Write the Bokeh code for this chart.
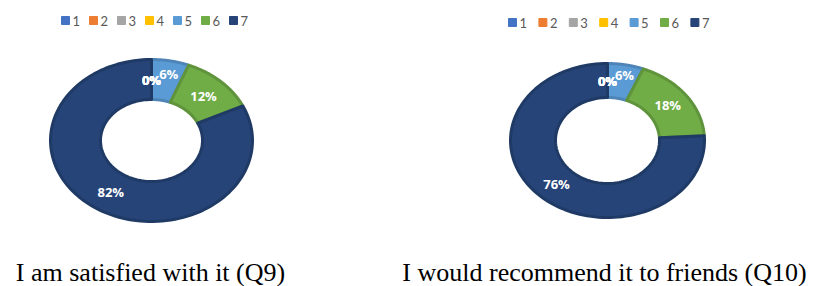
import numpy as np
from bokeh.plotting import figure
from bokeh.models import Range1d, ColumnDataSource
from bokeh.core.properties import value
from bokeh.embed import file_html
from bokeh.resources import INLINE

# ---------------- data ----------------
categories = ["1", "2", "3", "4", "5", "6", "7"]
q9_values = [0, 0, 0, 0, 6, 12, 82]
q10_values = [0, 0, 0, 0, 6, 18, 76]
captions = ["I am satisfied with it (Q9)", "I would recommend it to friends (Q10)"]

# ---------------- style ----------------
fill_colors = ["#4472C4", "#ED7D31", "#A5A5A5", "#FFC000", "#5B9BD5", "#70AD47", "#264478"]
edge_colors = ["#3A62A8", "#C96A29", "#8C8C8C", "#D9A300", "#4E85B6", "#5F933C", "#203A66"]

W, H = 813, 286
p = figure(width=W, height=H, x_range=Range1d(0, W), y_range=Range1d(H, 0),
           output_backend="svg", toolbar_location=None, x_axis_type=None, y_axis_type=None,
           min_border=0)
p.grid.visible = False
p.outline_line_color = None
p.background_fill_color = "white"

# layout per chart: center, outer radii, inner radii, legend start/step/y, caption x
charts = [
    dict(vals=q9_values, cx=151, cy=140, rxo=101, ryo=81, rxi=51, ryi=41,
         lx=61, lstep=28, ly=20, capx=150),
    dict(vals=q10_values, cx=607, cy=140, rxo=97, ryo=77, rxi=52, ryi=43,
         lx=508, lstep=30.4, ly=22, capx=604),
]
# nudge for the small label that would collide with the 0% labels
label_nudge = {4: (3, -7)}

for ci, ch in enumerate(charts):
    vals = np.array(ch["vals"], dtype=float)
    frac = vals / vals.sum()
    starts = np.concatenate([[0], np.cumsum(frac)[:-1]]) * 2 * np.pi
    ends = np.cumsum(frac) * 2 * np.pi
    xs, ys, fc, lc = [], [], [], []
    for i in range(len(vals)):
        if frac[i] <= 0:
            continue
        t = np.linspace(starts[i], ends[i], 120)
        ox = ch["cx"] + ch["rxo"] * np.sin(t)
        oy = ch["cy"] - ch["ryo"] * np.cos(t)
        ix = ch["cx"] + ch["rxi"] * np.sin(t[::-1])
        iy = ch["cy"] - ch["ryi"] * np.cos(t[::-1])
        xs.append(np.concatenate([ox, ix]).tolist())
        ys.append(np.concatenate([oy, iy]).tolist())
        fc.append(fill_colors[i])
        lc.append(edge_colors[i])
    src = ColumnDataSource(dict(xs=xs, ys=ys, fc=fc, lc=lc))
    p.patches("xs", "ys", source=src, fill_color="fc", line_color="lc", line_width=3,
              line_join="round")

    # data labels at the middle of each slice
    mids = (starts + ends) / 2
    rxm = (ch["rxo"] + ch["rxi"]) / 2
    rym = (ch["ryo"] + ch["ryi"]) / 2
    lx_, ly_, lt = [], [], []
    for i in range(len(vals)):
        dx, dy = label_nudge.get(i, (0, 0))
        lx_.append(ch["cx"] + rxm * np.sin(mids[i]) + dx)
        ly_.append(ch["cy"] - rym * np.cos(mids[i]) + dy)
        lt.append(f"{int(round(vals[i]))}%")
    p.text(x=lx_, y=ly_, text=lt, text_color="white", text_font=value("Open Sans"),
           text_font_style="bold", text_font_size="13px", text_align="center",
           text_baseline="middle")

    # legend
    sq_x = [ch["lx"] + k * ch["lstep"] for k in range(len(categories))]
    p.scatter(x=[x + 4 for x in sq_x], y=[ch["ly"]] * len(categories), marker="square",
              size=8, fill_color=fill_colors, line_color=fill_colors)
    p.text(x=[x + 11 for x in sq_x], y=[ch["ly"] + 0.5] * len(categories), text=categories,
           text_color="#595959", text_font=value("Lato"), text_font_size="13px",
           text_align="left", text_baseline="middle")

    # caption
    p.text(x=[ch["capx"]], y=[272], text=[captions[ci]], text_color="black",
           text_font=value("Liberation Serif"),
           text_font_size="26px", text_align="center", text_baseline="middle")

open("out.html", "w").write(file_html(p, INLINE))
